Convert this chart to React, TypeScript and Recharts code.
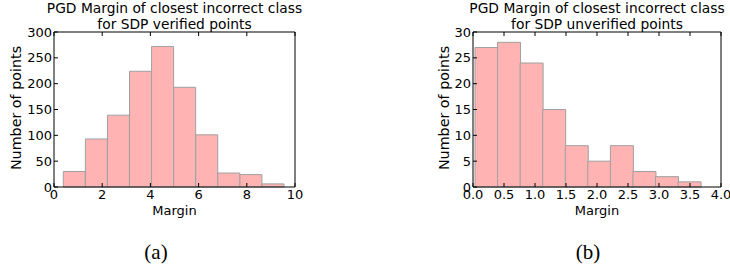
import React from 'react';
import { BarChart, Bar, XAxis, YAxis } from 'recharts';

// histogram (a): verified points
const verifiedMids = [0.844, 1.76, 2.676, 3.592, 4.508, 5.424, 6.34, 7.256, 8.172, 9.088];
const verifiedCounts = [30, 93, 139, 224, 272, 193, 101, 27, 24, 6];
const verifiedXTicks = [0, 2, 4, 6, 8, 10];
const verifiedYTicks = [0, 50, 100, 150, 200, 250, 300];

// histogram (b): unverified points
const unverifiedMids = [0.214, 0.578, 0.942, 1.306, 1.67, 2.034, 2.398, 2.762, 3.126, 3.49];
const unverifiedCounts = [27, 28, 24, 15, 8, 5, 8, 3, 2, 1];
const unverifiedXTicks = [0, 0.5, 1, 1.5, 2, 2.5, 3, 3.5, 4];
const unverifiedYTicks = [0, 5, 10, 15, 20, 25, 30];

const FONT = '"DejaVu Sans", sans-serif';
const tickStyle = { fill: '#000', fontSize: 13, fontFamily: FONT };
const blank = () => '';

interface HistProps {
  left: number;
  width: number;
  marginLeft: number;
  plotW: number;
  mids: number[];
  counts: number[];
  xTicks: number[];
  yTicks: number[];
  xFmt: (v: number) => string;
  subtitle: string;
  ylabX: number;
}

const Histogram: React.FC<HistProps> = ({ left, width, marginLeft, plotW, mids, counts, xTicks, yTicks, xFmt, subtitle, ylabX }) => {
  const data = mids.map((m, i) => ({ mid: m, count: counts[i] }));
  const xDomain = [xTicks[0], xTicks[xTicks.length - 1]];
  const yDomain = [yTicks[0], yTicks[yTicks.length - 1]];
  const center = marginLeft + plotW / 2;
  // each axis takes 1px of offset, so the margins are reduced by 1
  return (
    <div style={{ position: 'absolute', left, top: 0, width, height: 230 }}>
      <div style={{ position: 'absolute', left: center - 160, width: 320, top: 1, textAlign: 'center', fontFamily: FONT, fontSize: 13.8, lineHeight: '15.5px', color: '#000' }}>
        PGD Margin of closest incorrect class<br />for SDP {subtitle} points
      </div>
      <div style={{ position: 'absolute', left: center - 50, width: 100, top: 203, textAlign: 'center', fontFamily: FONT, fontSize: 13, color: '#000' }}>
        Margin
      </div>
      <div style={{ position: 'absolute', left: ylabX - 70, width: 140, top: 100, textAlign: 'center', fontFamily: FONT, fontSize: 14.3, color: '#000', transform: 'rotate(-90deg)' }}>
        Number of points
      </div>
      <BarChart
        width={width}
        height={230}
        data={data}
        margin={{ top: 31, right: width - marginLeft - plotW - 1, bottom: 42, left: marginLeft - 1 }}
        barCategoryGap={0}
        barGap={0}
      >
        <XAxis xAxisId="b" dataKey="mid" type="number" domain={xDomain} ticks={xTicks} interval={0} height={1}
          allowDataOverflow tick={tickStyle} tickFormatter={xFmt} tickSize={-4} tickMargin={7}
          axisLine={{ stroke: '#000' }} tickLine={{ stroke: '#000' }} />
        <XAxis xAxisId="t" orientation="top" dataKey="mid" type="number" domain={xDomain} ticks={xTicks} interval={0} height={1}
          allowDataOverflow tickFormatter={blank} tickSize={-4} axisLine={{ stroke: '#000' }} tickLine={{ stroke: '#000' }} />
        <YAxis yAxisId="l" type="number" domain={yDomain} ticks={yTicks} interval={0} width={1}
          tick={tickStyle} tickSize={-4} tickMargin={6} axisLine={{ stroke: '#000' }} tickLine={{ stroke: '#000' }} />
        <YAxis yAxisId="r" orientation="right" type="number" domain={yDomain} ticks={yTicks} interval={0} width={1}
          tickFormatter={blank} tickSize={-4} axisLine={{ stroke: '#000' }} tickLine={{ stroke: '#000' }} />
        <Bar xAxisId="b" yAxisId="l" dataKey="count" fill="#ffb3b3" stroke="#a0a0a0" strokeWidth={1} isAnimationActive={false} />
      </BarChart>
    </div>
  );
};

export default function App() {
  return (
    <div style={{ position: 'relative', width: 730, height: 269, background: '#fff', overflow: 'hidden' }}>
      <style>{`body{margin:0}`}</style>
      <Histogram left={0} width={310} marginLeft={54} plotW={241} mids={verifiedMids} counts={verifiedCounts}
        xTicks={verifiedXTicks} yTicks={verifiedYTicks} xFmt={(v) => String(v)} subtitle="verified" ylabX={16} />
      <Histogram left={400} width={330} marginLeft={73} plotW={248} mids={unverifiedMids} counts={unverifiedCounts}
        xTicks={unverifiedXTicks} yTicks={unverifiedYTicks} xFmt={(v) => v.toFixed(1)} subtitle="unverified" ylabX={44} />
      <div style={{ position: 'absolute', left: 106, width: 100, top: 240, textAlign: 'center', fontFamily: '"Liberation Serif", serif', fontSize: 21 }}>(a)</div>
      <div style={{ position: 'absolute', left: 538, width: 100, top: 240, textAlign: 'center', fontFamily: '"Liberation Serif", serif', fontSize: 21 }}>(b)</div>
    </div>
  );
}
